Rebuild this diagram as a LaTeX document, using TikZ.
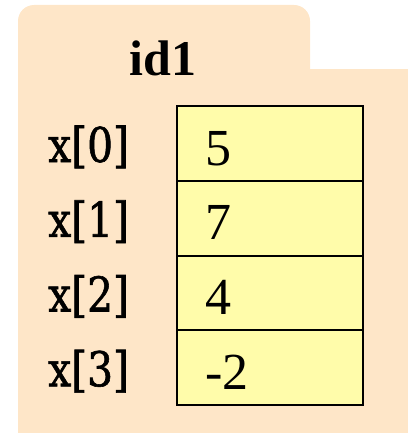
\documentclass[tikz,border=0pt]{standalone}
\usepackage{fontspec}
\setmainfont{Liberation Serif}
\newfontfamily\idxfont[FakeStretch=0.85, FakeBold=1.2]{DejaVu Serif}
\usepackage{tikz}
\usetikzlibrary{positioning, calc}
\definecolor{Folder}{HTML}{FEE6C8}
\definecolor{CellYellow}{HTML}{FFFCAA}

\begin{document}
\begin{tikzpicture}[x=1pt, y=-1pt,
    cellbox/.style={draw=black, line width=2pt, fill=CellYellow, minimum width=186pt, minimum height=75pt, inner sep=0pt},
    valtext/.style={font=\fontsize{52}{60}\selectfont, inner sep=0pt},
    idxtext/.style={font=\fontsize{48}{54}\idxfont, inner sep=0pt}]
    \useasboundingbox (0,0) rectangle (408,433);

    % Folder background with tab
    \fill[Folder, rounded corners=16pt] (18,5) rectangle (310,100);
    \fill[Folder] (18,69) rectangle (408,433);
    \node[anchor=base, inner sep=0pt, font=\fontsize{50}{60}\selectfont\bfseries] (title) at (163,76) {id1};

    % Array cells with indices and values
    \foreach \i/\v in {0/5, 1/7, 2/4, 3/-2} {
        \node[cellbox] (c\i) at (270, 143.5+74.75*\i) {};
        \node[valtext, anchor=base west] (v\i) at ($(c\i.north west)+(29,60)$) {\v};
        \node[idxtext, anchor=base west] (x\i) at ($(c\i.north west)+(-128,57)$) {x[\i]};
    }
\end{tikzpicture}
\end{document}
